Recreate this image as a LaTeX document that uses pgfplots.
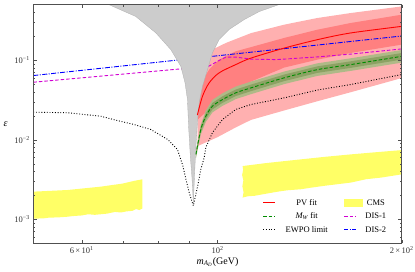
\documentclass[border=0pt]{standalone}
\usepackage{fontspec}
\setmainfont{Liberation Serif}
\usepackage{pgfplots}
\pgfplotsset{compat=1.18}
\definecolor{greyreg}{RGB}{204,204,204}
\definecolor{greyedge}{RGB}{175,175,175}
\definecolor{redouter}{RGB}{255,176,176}
\definecolor{redinner}{RGB}{255,128,128}
\definecolor{grnouter}{RGB}{175,185,135}
\definecolor{grninner}{RGB}{140,162,100}
\definecolor{grnline}{RGB}{0,140,0}
\definecolor{cmsyellow}{RGB}{255,255,102}
\definecolor{dismag}{RGB}{210,0,210}
\definecolor{disblue}{RGB}{0,0,255}
\definecolor{axisgrey}{RGB}{80,80,80}
\begin{document}
\begin{tikzpicture}
\begin{axis}[
  scale only axis, width=368.4pt, height=238.6pt,
  xmode=log, ymode=log,
  xmin=50, xmax=200, ymin=5e-4, ymax=0.5,
  xtick={60,100,200},
  xticklabels={6\,×\,10\textsuperscript{1},10\textsuperscript{2},2\,×\,10\textsuperscript{2}},
  minor xtick={70,80,90},
  ytick={0.001,0.01,0.1},
  yticklabels={10\textsuperscript{−3},10\textsuperscript{−2},10\textsuperscript{−1}},
  minor ytick={0.0006,0.0007,0.0008,0.0009,0.002,0.003,0.004,0.005,0.006,0.007,0.008,0.009,0.02,0.03,0.04,0.05,0.06,0.07,0.08,0.09,0.2,0.3,0.4},
  tick align=inside, major tick length=3.5pt, minor tick length=2pt,
  axis line style={axisgrey, line width=0.6pt},
  every tick/.style={axisgrey, line width=0.4pt},
  tick label style={font=\fontsize{8.5}{10}\selectfont, text=black!80},
  xlabel={\textit{m}\textsubscript{\textit{A}\textsubscript{\textit{D}}}(GeV)},
  ylabel={\textit{ε}},
  label style={font=\fontsize{10}{12}\selectfont},
  ylabel style={rotate=-90},
  xlabel style={yshift=3pt},
  axis on top,
  legend columns=2,
  legend style={draw=none, fill=none, at={(0.972,0.022)}, anchor=south east,
    font=\fontsize{8.5}{10}\selectfont,
    nodes={inner sep=2pt, text height=1.6ex, text depth=0.4ex},
    /tikz/column 1/.style={column sep=8pt},
    /tikz/column 2/.style={column sep=14pt},
    /tikz/column 3/.style={column sep=1pt}},
]
% CMS
\addplot[fill=cmsyellow, draw=none, forget plot] coordinates {
 (50,0.00223) (56.9,0.00234) (64.5,0.00258) (70,0.00282) (73.1,0.00305) (75.4,0.00319)
 (75.4,0.00137) (74.5,0.00131) (73.6,0.00135) (72.6,0.00128) (71,0.00126) (69.5,0.00122) (68,0.00124) (66,0.00118)
 (64.5,0.00116) (63,0.00114) (61.5,0.00116) (60,0.00112) (58,0.00110) (56.9,0.00108) (55,0.00106) (53,0.00105) (52,0.00103) (50,0.00102)
} -- cycle;
\addplot[fill=cmsyellow, draw=none, forget plot] coordinates {
 (109.9,0.00468) (120,0.0051) (136.8,0.00568) (150,0.00612) (165.1,0.00656) (180,0.00695) (200,0.00743)
 (200,0.00368) (185,0.00335) (175,0.0032) (165.1,0.0029) (150,0.00265) (142,0.00250) (136.8,0.00239) (130,0.00232) (125,0.00222) (120,0.0021) (115,0.00198) (112,0.00195) (109.9,0.00188)
 (110.3,0.0022) (109.8,0.0026) (110.2,0.0031) (109.7,0.0036) (110.1,0.0042)
} -- cycle;
% PV fit outer band
\addplot[fill=redouter, draw=none, forget plot] coordinates {
 (92.8,0.03) (95.7,0.1) (98.1,0.1362) (103.2,0.1653) (113.4,0.2195) (128.5,0.2805) (145.7,0.3404) (165.1,0.393) (200,0.476)
 (200,0.0598) (165.1,0.0397) (145.7,0.0306) (128.5,0.0234) (113.4,0.0178) (106.5,0.0140) (100,0.0108) (92.8,0.00834)
} -- cycle;
% PV fit inner band
\addplot[fill=redinner, draw=none, forget plot] coordinates {
 (92.8,0.04) (93.3,0.0472) (96.9,0.0764) (100.6,0.102) (107.1,0.1297) (113.4,0.1464) (128.5,0.191) (145.7,0.2427) (165.1,0.2945) (200,0.3745)
 (200,0.1574) (165.1,0.1238) (145.7,0.102) (128.5,0.081) (113.4,0.054) (107.1,0.0408) (100.6,0.0321) (96.9,0.0241) (92.8,0.018)
} -- cycle;
% MW fit outer band
\addplot[fill=grnouter, draw=none, forget plot] coordinates {
 (92.2,0.0073) (93.9,0.0155) (95.7,0.0234) (98.1,0.0318) (101.9,0.0385) (107.1,0.0468) (113.4,0.0540) (128.5,0.0722) (145.7,0.0917) (165.1,0.1060) (200,0.1346)
 (200,0.0935) (165.1,0.0736) (145.7,0.0637) (128.5,0.0502) (113.4,0.0375) (107.1,0.0325) (101.9,0.0268) (98.1,0.0221) (95.7,0.0168) (93.9,0.0117) (92.2,0.0059)
} -- cycle;
% MW fit inner band
\addplot[fill=grninner, draw=none, forget plot] coordinates {
 (92.2,0.0070) (93.9,0.0146) (95.7,0.0216) (98.1,0.0291) (101.9,0.0353) (107.1,0.0429) (113.4,0.0495) (128.5,0.0662) (145.7,0.0840) (165.1,0.0971) (200,0.1234)
 (200,0.1020) (165.1,0.0803) (145.7,0.0695) (128.5,0.0547) (113.4,0.0409) (107.1,0.0355) (101.9,0.0292) (98.1,0.0241) (95.7,0.0182) (93.9,0.0125) (92.2,0.0062)
} -- cycle;
% DIS-1
\addplot[draw=dismag, line width=0.9pt, dash pattern=on 3.5pt off 2pt, forget plot] coordinates {
 (50,0.053) (87.1,0.078) (91,0.079) (95.7,0.0803) (100,0.0971) (103.2,0.1097) (107.1,0.1097) (113.4,0.1035) (124.6,0.102) (128.5,0.1035) (145.7,0.1103) (165.1,0.1196) (200,0.139)
};
% DIS-2
\addplot[draw=disblue, line width=0.9pt, dash pattern=on 5pt off 1.5pt on 1pt off 1.5pt, forget plot] coordinates {
 (50,0.0643) (200,0.202)
};
% excluded grey region
\addplot[fill=greyreg, draw=none, forget plot] coordinates {
 (66.5,0.5) (69.5,0.43) (73.5,0.356) (79.3,0.221) (83.9,0.136) (87.1,0.084) (88.5,0.052) (89.3,0.0321)
 (89.7,0.0143) (90.3,0.006) (90.8,0.0035) (91.3,0.0016) (91.7,0.0035) (92.0,0.006) (92.2,0.00834) (92.8,0.018)
 (93.3,0.0292) (94.5,0.0472) (96.3,0.0764) (98.1,0.124) (100.6,0.182) (104.4,0.243) (110.5,0.324) (117,0.41) (125.9,0.5)
} -- cycle;
\addplot[draw=greyedge, line width=0.3pt, forget plot] coordinates {
 (66.5,0.5) (69.5,0.43) (73.5,0.356) (79.3,0.221) (83.9,0.136) (87.1,0.084) (88.5,0.052) (89.3,0.0321)
 (89.7,0.0143) (90.3,0.006) (90.8,0.0035) (91.3,0.0016) (91.7,0.0035) (92.0,0.006) (92.2,0.00834) (92.8,0.018)
 (93.3,0.0292) (94.5,0.0472) (96.3,0.0764) (98.1,0.124) (100.6,0.182) (104.4,0.243) (110.5,0.324) (117,0.41) (125.9,0.5)
};
% PV fit central
\addplot[draw=red, line width=0.9pt, smooth, forget plot] coordinates {
 (92.7,0.0205) (94.5,0.0353) (96.9,0.052) (100.6,0.0695) (107.1,0.0883) (113.4,0.1066) (128.5,0.1423) (145.7,0.1819) (165.1,0.2207) (200,0.267)
};
% MW fit central
\addplot[draw=grnline, line width=0.9pt, dash pattern=on 3.5pt off 2pt, smooth, forget plot] coordinates {
 (92.2,0.00656) (93.9,0.0135) (95.7,0.0198) (98.1,0.0265) (101.9,0.0321) (107.1,0.039) (113.4,0.045) (128.5,0.0602) (145.7,0.0764) (165.1,0.0883) (200,0.1122)
};
% EWPO limit
\addplot[draw=black, line width=0.9pt, dash pattern=on 0.9pt off 1.8pt, forget plot] coordinates {
 (50,0.02226) (56.9,0.0219) (64.5,0.0198) (68.2,0.01767) (73.0,0.0156) (77.8,0.0135) (82.9,0.0101) (86.0,0.00758)
 (87.7,0.00482) (88.8,0.00318) (89.9,0.00217) (91.3,0.00148)
 (92.8,0.00262) (93.9,0.00425) (95.1,0.00596) (95.7,0.00803) (98.1,0.01228) (101.9,0.018) (107.1,0.0241)
 (113.4,0.0278) (128.5,0.0337) (145.7,0.0423) (165.1,0.0496) (200,0.0662)
};
% legend
\addlegendimage{legend image code/.code={\draw[red, line width=0.9pt] (0cm,0cm) -- (0.42cm,0cm);}}
\addlegendentry{PV fit}
\addlegendimage{legend image code/.code={\fill[cmsyellow] (0cm,-0.1cm) rectangle (0.63cm,0.12cm);}}
\addlegendentry{CMS}
\addlegendimage{legend image code/.code={\draw[grnline, line width=0.9pt, dash pattern=on 3.5pt off 2pt] (0cm,0cm) -- (0.42cm,0cm);}}
\addlegendentry{\textit{M\textsubscript{W}} fit}
\addlegendimage{legend image code/.code={\draw[dismag, line width=0.9pt, dash pattern=on 3.5pt off 2pt] (0cm,0cm) -- (0.42cm,0cm);}}
\addlegendentry{DIS-1}
\addlegendimage{legend image code/.code={\draw[black, line width=0.9pt, dash pattern=on 0.9pt off 1.8pt] (0cm,0cm) -- (0.42cm,0cm);}}
\addlegendentry{EWPO limit}
\addlegendimage{legend image code/.code={\draw[disblue, line width=0.9pt, dash pattern=on 4pt off 1.5pt on 1pt off 1.5pt] (0cm,0cm) -- (0.42cm,0cm);}}
\addlegendentry{DIS-2}
\end{axis}
\pgfresetboundingbox
\path (current axis.south west) ++(-33.3pt,-27.7pt) coordinate (bbsw);
\path (current axis.north east) ++(13.3pt,4.7pt) coordinate (bbne);
\useasboundingbox (bbsw) rectangle (bbne);
\end{tikzpicture}
\end{document}
